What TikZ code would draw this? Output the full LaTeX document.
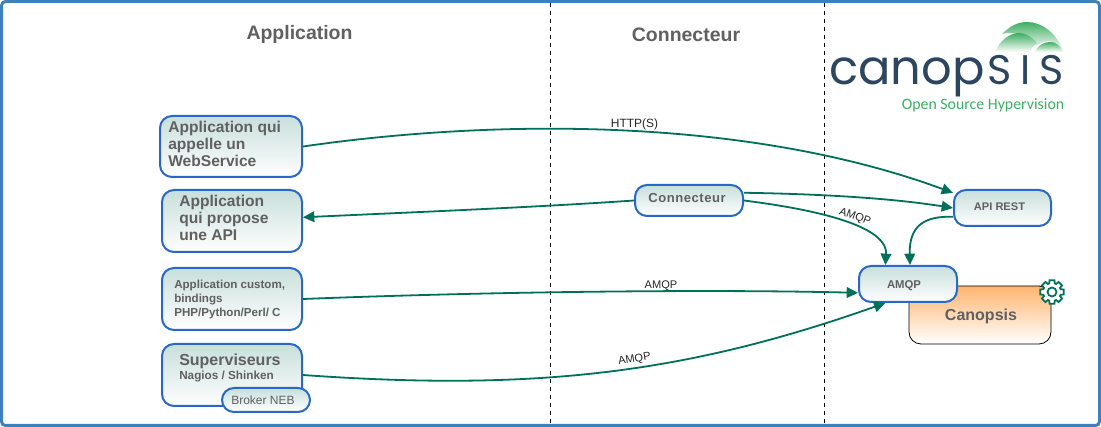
\documentclass[tikz,border=0pt]{standalone}
\usepackage{fontspec}
\setmainfont{Liberation Sans}
\newfontfamily\logofont{Poppins}
\newfontfamily\subfont{Carlito}
\usepackage{tikz}
\usepackage{xcolor}
\usetikzlibrary{shapes,arrows.meta}
\definecolor{frameblue}{HTML}{3C80BC}
\definecolor{boxblue}{HTML}{2A68C8}
\definecolor{boxtop}{HTML}{C8DFDB}
\definecolor{coretop}{HTML}{FFB46E}
\definecolor{linkgreen}{HTML}{00705A}
\definecolor{textgrey}{HTML}{606060}
\definecolor{logoblue}{HTML}{2C4660}
\definecolor{logogreen}{HTML}{3FAE62}
\tikzset{
  appbox/.style={draw=boxblue,line width=1.5pt,rounded corners=9pt,top color=boxtop,bottom color=white,inner sep=0pt},
  corebox/.style={draw=black,line width=0.6pt,rounded corners=9pt,top color=coretop,bottom color=white,inner sep=0pt},
  link/.style={draw=linkgreen,line width=1.35pt},
  linkarrow/.style={link,-{Triangle[length=8.5pt,width=8pt]}},
  boxtext/.style={text=textgrey,align=left,inner sep=0pt},
  wiretext/.style={text=black!85,inner sep=0pt,font=\fontsize{8.3}{10}\selectfont},
  titletext/.style={text=textgrey,inner sep=0pt,font=\bfseries\fontsize{14.6}{17}\selectfont},
  gearline/.style={draw=linkgreen,line width=1.3pt,fill=white}
}

\begin{document}
\begin{tikzpicture}[x=0.75pt,y=0.75pt,yscale=-1]
\useasboundingbox (0,0) rectangle (1101,427);

%Shape: outer frame
\draw [draw=frameblue,line width=2.25pt,rounded corners=3pt] (1.5,1.5) rectangle (1099.5,425.5);
%Straight Lines: column separators
\draw [dashed,line width=0.7pt] (550,3) -- (550,424);
\draw [dashed,line width=0.7pt] (824,3) -- (824,424);

%Shape: logo domes
\path [top color=logogreen,bottom color=white] (1002,34) .. controls (1010,26) and (1018,22) .. (1027,22) .. controls (1042,22) and (1056,33) .. (1063,50) -- (1050,41) .. controls (1044,41) and (1040,43) .. (1036,46) .. controls (1030,38) and (1016,30) .. (1002,34) -- cycle;
\path [top color=logogreen,bottom color=white] (995,52) .. controls (1000,40) and (1010,33) .. (1019,33) .. controls (1026,33) and (1032,37) .. (1037,43) .. controls (1033,46) and (1031,49) .. (1030,52) -- cycle;
\path [top color=logogreen,bottom color=white] (1035,52) .. controls (1038,45) and (1044,42) .. (1050,42) .. controls (1056,42) and (1061,46) .. (1063,52) -- cycle;

%Shape: boxes
\node [appbox,minimum width=142*0.75pt,minimum height=61*0.75pt] (appWs) at (231,146.5) {};
\node [appbox,minimum width=140*0.75pt,minimum height=62*0.75pt] (appApi) at (232,221) {};
\node [appbox,minimum width=140*0.75pt,minimum height=62*0.75pt] (appCustom) at (232,299) {};
\node [appbox,minimum width=140*0.75pt,minimum height=62*0.75pt] (appSup) at (232,375) {};
\node [appbox,minimum width=88*0.75pt,minimum height=24*0.75pt] (brokerNeb) at (266,400) {};
\node [appbox,minimum width=108*0.75pt,minimum height=31*0.75pt] (connBox) at (689,200.5) {};
\node [appbox,minimum width=97*0.75pt,minimum height=36*0.75pt] (apiRest) at (1002.5,208) {};
\node [corebox,minimum width=142*0.75pt,minimum height=58*0.75pt] (coreBox) at (980,315) {};
\node [appbox,minimum width=98*0.75pt,minimum height=36*0.75pt] (amqpBox) at (908,284) {};

%Shape: gear
\draw [gearline,shift={(1052,292)}] (-12:12) \foreach \a in {0,45,...,315} { -- (\a-12:12) -- (\a+12:12) -- (\a+18:9) -- (\a+27:9) } -- cycle;
\draw [gearline] (1052,292) circle (4.5);

%Curves: links
\draw [linkarrow] (appWs.east) .. controls (500,118) and (750,118) .. (apiRest.163);
\draw [linkarrow] (connBox.west) .. controls (540,207) and (420,212) .. (appApi.3);
\draw [linkarrow] (connBox.8) .. controls (820,194) and (890,198) .. (apiRest.west);
\draw [linkarrow] (connBox.east) .. controls (795,207) and (888,222) .. (amqpBox.140);
\draw [linkarrow] (apiRest.190) .. controls (925,216) and (909,225) .. (amqpBox.84);
\draw [linkarrow] (appCustom.east) .. controls (480,292) and (700,289) .. (amqpBox.190);
\draw [linkarrow] (appSup.east) .. controls (540,392) and (690,372) .. (amqpBox.220);

% Text Node
\node [titletext] (titleApp) at (299.5,34.5) {Application};
\node [titletext] (titleConn) at (686,34.5) {Connecteur};
\node [text=logoblue,inner sep=0pt,anchor=base west,font=\logofont\fontsize{36}{40}\selectfont] (logoName) at (829,85) {canop\hspace{2pt}{\fontsize{31}{40}\selectfont\addfontfeature{LetterSpace=22}SIS}};
\node [text=logogreen,inner sep=0pt,font=\subfont\fontsize{11.9}{14}\selectfont] (logoSub) at (983,105) {Open Source Hypervision};
\node [boxtext,anchor=west,font=\bfseries\fontsize{11.7}{12.75}\selectfont] (txtWs) at (168,144) {Application qui\\appelle un\\WebService};
\node [boxtext,anchor=west,font=\bfseries\fontsize{11.7}{12.75}\selectfont] (txtApi) at (179,218) {Application\\qui propose\\une API};
\node [boxtext,anchor=west,font=\bfseries\fontsize{8.7}{10.5}\selectfont] (txtCustom) at (174,300) {Application custom,\\bindings\\PHP/Python/Perl/ C};
\node [boxtext,anchor=west,font=\bfseries\fontsize{8.8}{11}\selectfont] (txtSup) at (179,368) {{\fontsize{12}{12}\selectfont Superviseurs}\\Nagios / Shinken};
\node [boxtext,font=\fontsize{9}{11}\selectfont] (txtNeb) at (263,400) {Broker NEB};
\node [boxtext,font=\bfseries\fontsize{9.8}{11}\selectfont\addfontfeature{LetterSpace=4}] (txtConn) at (687,198.5) {Connecteur};
\node [boxtext,font=\bfseries\fontsize{8.3}{10}\selectfont] (txtRest) at (999.5,207) {API REST};
\node [boxtext,font=\bfseries\fontsize{8.5}{10}\selectfont] (txtAmqp) at (904,285.5) {AMQP};
\node [boxtext,font=\bfseries\fontsize{12}{14}\selectfont] (txtCore) at (981,316) {Canopsis};
\node [wiretext,font=\fontsize{9}{10}\selectfont] (lblHttp) at (634.5,124.5) {HTTP(S)};
\node [wiretext] (lblConn) at (855,217) [rotate=-20] {AMQP};
\node [wiretext] (lblCustom) at (661,286) {AMQP};
\node [wiretext] (lblSup) at (634.5,359.5) [rotate=9] {AMQP};

\end{tikzpicture}
\end{document}
